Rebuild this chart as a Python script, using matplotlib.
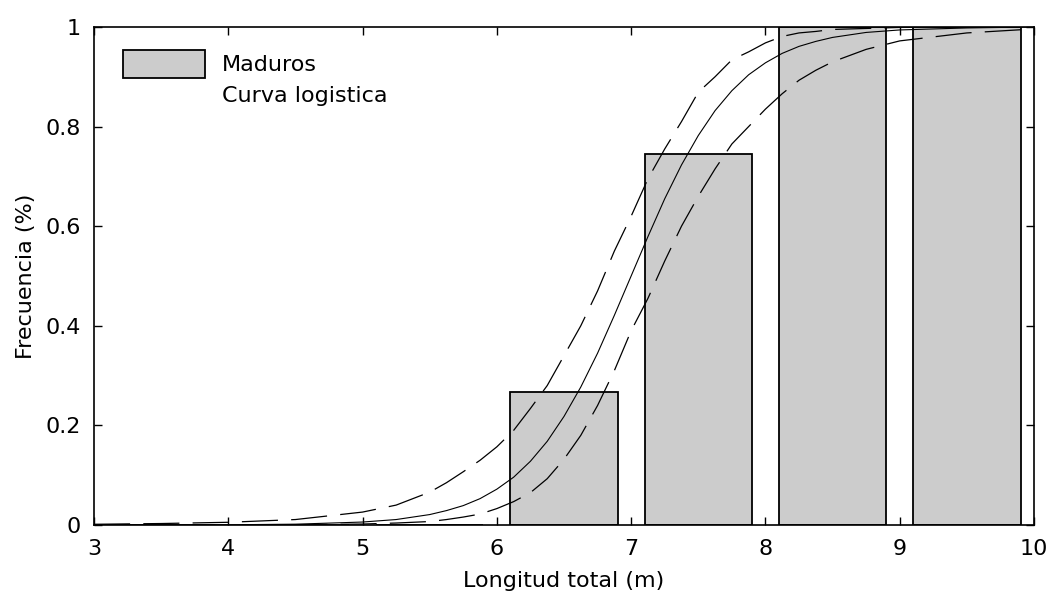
import numpy as np
import matplotlib
matplotlib.use('Agg')
import matplotlib.pyplot as plt
from matplotlib.lines import Line2D
from matplotlib.patches import Patch
from matplotlib.ticker import FormatStrFormatter

# bar data (proportion of mature individuals per length class)
bar_centers = [3.5, 4.5, 5.5, 6.5, 7.5, 8.5, 9.5]
bar_values = [0.0, 0.0, 0.0, 0.267, 0.745, 1.0, 1.0]

# logistic curve and its confidence bands
curve_x = [3, 3.5, 4, 4.5, 5, 5.25, 5.5, 5.625, 5.75, 5.875, 6, 6.125, 6.25, 6.375,
           6.5, 6.625, 6.75, 6.875, 7, 7.125, 7.25, 7.375, 7.5, 7.625, 7.75, 7.875,
           8, 8.125, 8.25, 8.375, 8.5, 8.75, 9, 9.5, 10]
curve_fit = [0.0, 0.0001, 0.0005, 0.0017, 0.006, 0.011, 0.021, 0.029, 0.039, 0.053, 0.072, 0.096,
             0.128, 0.168, 0.218, 0.277, 0.345, 0.421, 0.5, 0.579, 0.655, 0.723, 0.782, 0.832,
             0.872, 0.904, 0.928, 0.947, 0.961, 0.971, 0.979, 0.989, 0.994, 0.998, 1.0]
curve_upper = [0.0015, 0.003, 0.0055, 0.011, 0.026, 0.040, 0.066, 0.085, 0.107, 0.13, 0.157, 0.19,
               0.234, 0.28, 0.34, 0.40, 0.47, 0.55, 0.62, 0.695, 0.755, 0.81, 0.869, 0.90,
               0.934, 0.95, 0.968, 0.981, 0.988, 0.991, 0.995, 0.997, 0.999, 1.0, 1.0]
curve_lower = [0.0, 0.0, 0.0001, 0.0005, 0.002, 0.004, 0.007, 0.011, 0.016, 0.022, 0.033, 0.047,
               0.065, 0.093, 0.132, 0.18, 0.24, 0.31, 0.39, 0.455, 0.53, 0.60, 0.66, 0.715,
               0.765, 0.80, 0.835, 0.866, 0.893, 0.913, 0.93, 0.955, 0.972, 0.988, 0.996]

x_ticks = [3, 4, 5, 6, 7, 8, 9, 10]
y_ticks = [0, 0.2, 0.4, 0.6, 0.8, 1]

plt.rcParams['font.size'] = 16
plt.rcParams['lines.scale_dashes'] = False

fig = plt.figure(figsize=(10.49, 5.99), dpi=100)
ax = fig.add_axes([0.0896, 0.1235, 0.8961, 0.8315])

ax.bar(bar_centers, bar_values, width=0.8, color='#cccccc', edgecolor='black',
       linewidth=1.3, zorder=2)

ax.plot(curve_x, curve_fit, color='black', linewidth=0.8, zorder=3)
ax.plot(curve_x, curve_upper, color='black', linewidth=0.9, dashes=(26, 9.5), zorder=3)
ax.plot(curve_x, curve_lower, color='black', linewidth=0.9, dashes=(26, 9.5), zorder=3)

ax.set_xlim(3, 10)
ax.set_ylim(0, 1)
ax.set_xticks(x_ticks)
ax.set_yticks(y_ticks)
ax.yaxis.set_major_formatter(FormatStrFormatter('%g'))
ax.tick_params(direction='in', length=6, width=1, top=True, right=True)
ax.tick_params(axis='x', pad=10)
ax.tick_params(axis='y', pad=9.5)
for s in ax.spines.values():
    s.set_linewidth(1.2)

ax.set_xlabel('Longitud total (m)', labelpad=9)
ax.set_ylabel('Frecuencia (%)', labelpad=7)

handles = [Patch(facecolor='#cccccc', edgecolor='black', linewidth=1.3),
           Line2D([], [], linestyle='none')]
ax.legend(handles, ['Maduros', 'Curva logistica'], loc='upper left',
          bbox_to_anchor=(0.031, 0.954), frameon=False, borderaxespad=0, borderpad=0,
          handlelength=3.7, handleheight=1.56, handletextpad=0.75, labelspacing=0.15)

fig.savefig('out.png', dpi=100)
